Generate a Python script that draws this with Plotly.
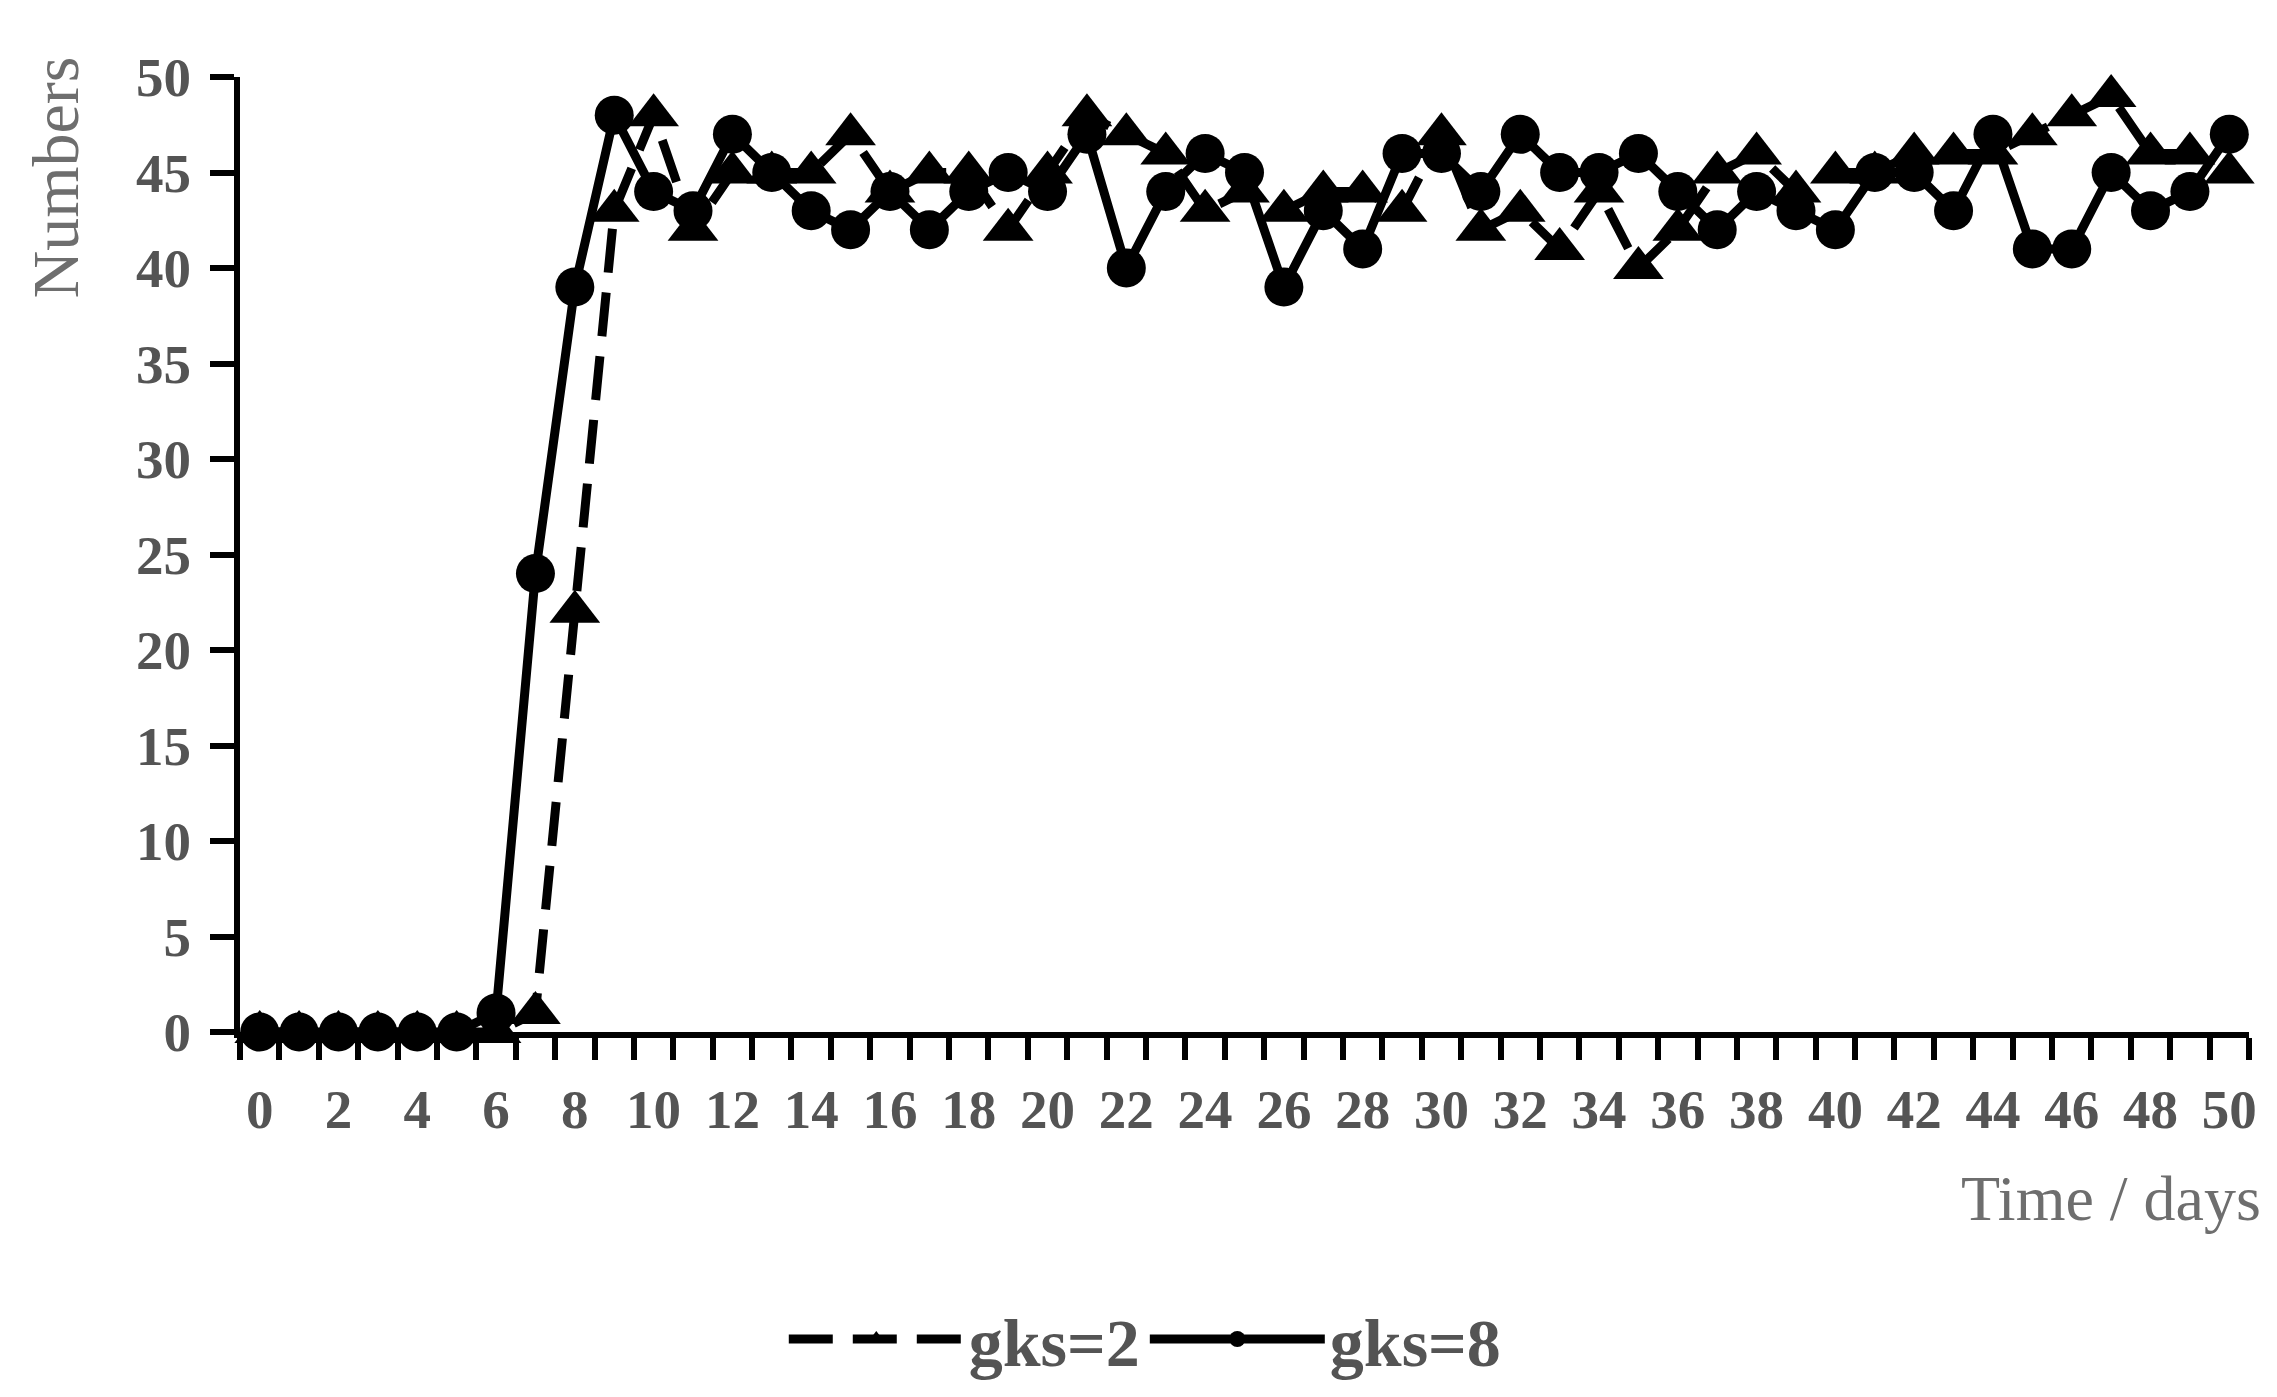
import plotly.graph_objects as go

days = list(range(51))
gks2 = [0, 0, 0, 0, 0, 0, 0, 1, 22, 43, 48, 42, 45, 45, 45, 47, 44, 45, 45, 42,
        45, 48, 47, 46, 43, 44, 43, 44, 44, 43, 47, 42, 43, 41, 44, 40, 42, 45,
        46, 44, 45, 45, 46, 46, 46, 47, 48, 49, 46, 46, 45]
gks8 = [0, 0, 0, 0, 0, 0, 1, 24, 39, 48, 44, 43, 47, 45, 43, 42, 44, 42, 44, 45,
        44, 47, 40, 44, 46, 45, 39, 43, 41, 46, 46, 44, 47, 45, 45, 46, 44, 42,
        44, 43, 42, 45, 45, 43, 47, 41, 41, 45, 43, 44, 47]
x_tickvals = list(range(0, 51, 2))
x_ticktext = [str(v) for v in x_tickvals]
y_tickvals = list(range(0, 51, 5))

FONT = "Liberation Serif"
TICKCOL = "#545454"
TITLECOL = "#6e6e6e"

fig = go.Figure()
fig.add_trace(go.Scatter(
    x=days, y=gks2, name="gks=2", mode="lines+markers",
    line=dict(color="black", width=9, dash="44px,20px"),
    marker=dict(symbol="triangle-up", size=44, color="black"),
    cliponaxis=False,
))
fig.add_trace(go.Scatter(
    x=days, y=gks8, name="gks=8", mode="lines+markers",
    line=dict(color="black", width=9),
    marker=dict(symbol="circle", size=39, color="black"),
    cliponaxis=False,
))

fig.update_layout(
    width=2261, height=1381,
    margin=dict(l=232, r=18, t=69, b=357),
    paper_bgcolor="white", plot_bgcolor="white",
    font=dict(family=FONT, color=TICKCOL),
    showlegend=True,
    legend=dict(
        orientation="h", xref="container", yref="container",
        x=0.503, xanchor="center", y=0.036, yanchor="middle",
        font=dict(family=FONT, size=68, color=TICKCOL, weight="bold"),
        itemwidth=175, tracegroupgap=0, itemsizing="trace",
    ),
    xaxis=dict(
        range=[-0.5, 50.5], showgrid=False, zeroline=False,
        showline=True, linecolor="black", linewidth=6,
        tickvals=x_tickvals, ticktext=x_ticktext,
        ticks="outside", ticklen=22, tickcolor="rgba(0,0,0,0)",
        ticklabelstandoff=2,
        tickfont=dict(family=FONT, size=55, color=TICKCOL, weight="bold"),
        minor=dict(tick0=0.5, dtick=1, ticks="outside", ticklen=22,
                   tickwidth=6, tickcolor="black", showgrid=False),
    ),
    yaxis=dict(
        range=[0, 50], showgrid=False, zeroline=False,
        showline=True, linecolor="black", linewidth=6,
        tickvals=y_tickvals, ticks="outside", ticklen=24, tickwidth=6,
        tickcolor="black", ticklabelstandoff=8,
        tickfont=dict(family=FONT, size=55, color=TICKCOL, weight="bold"),
    ),
    annotations=[
        dict(text="Numbers", xref="paper", yref="paper", x=-0.092, y=0.895,
             xanchor="center", yanchor="middle", textangle=-90, showarrow=False,
             font=dict(family=FONT, size=66, color=TITLECOL)),
        dict(text="Time / days", xref="paper", yref="paper", x=1.007, y=-0.174,
             xanchor="right", yanchor="middle", showarrow=False,
             font=dict(family=FONT, size=64, color=TITLECOL)),
    ],
)

fig.write_html("out.html")
